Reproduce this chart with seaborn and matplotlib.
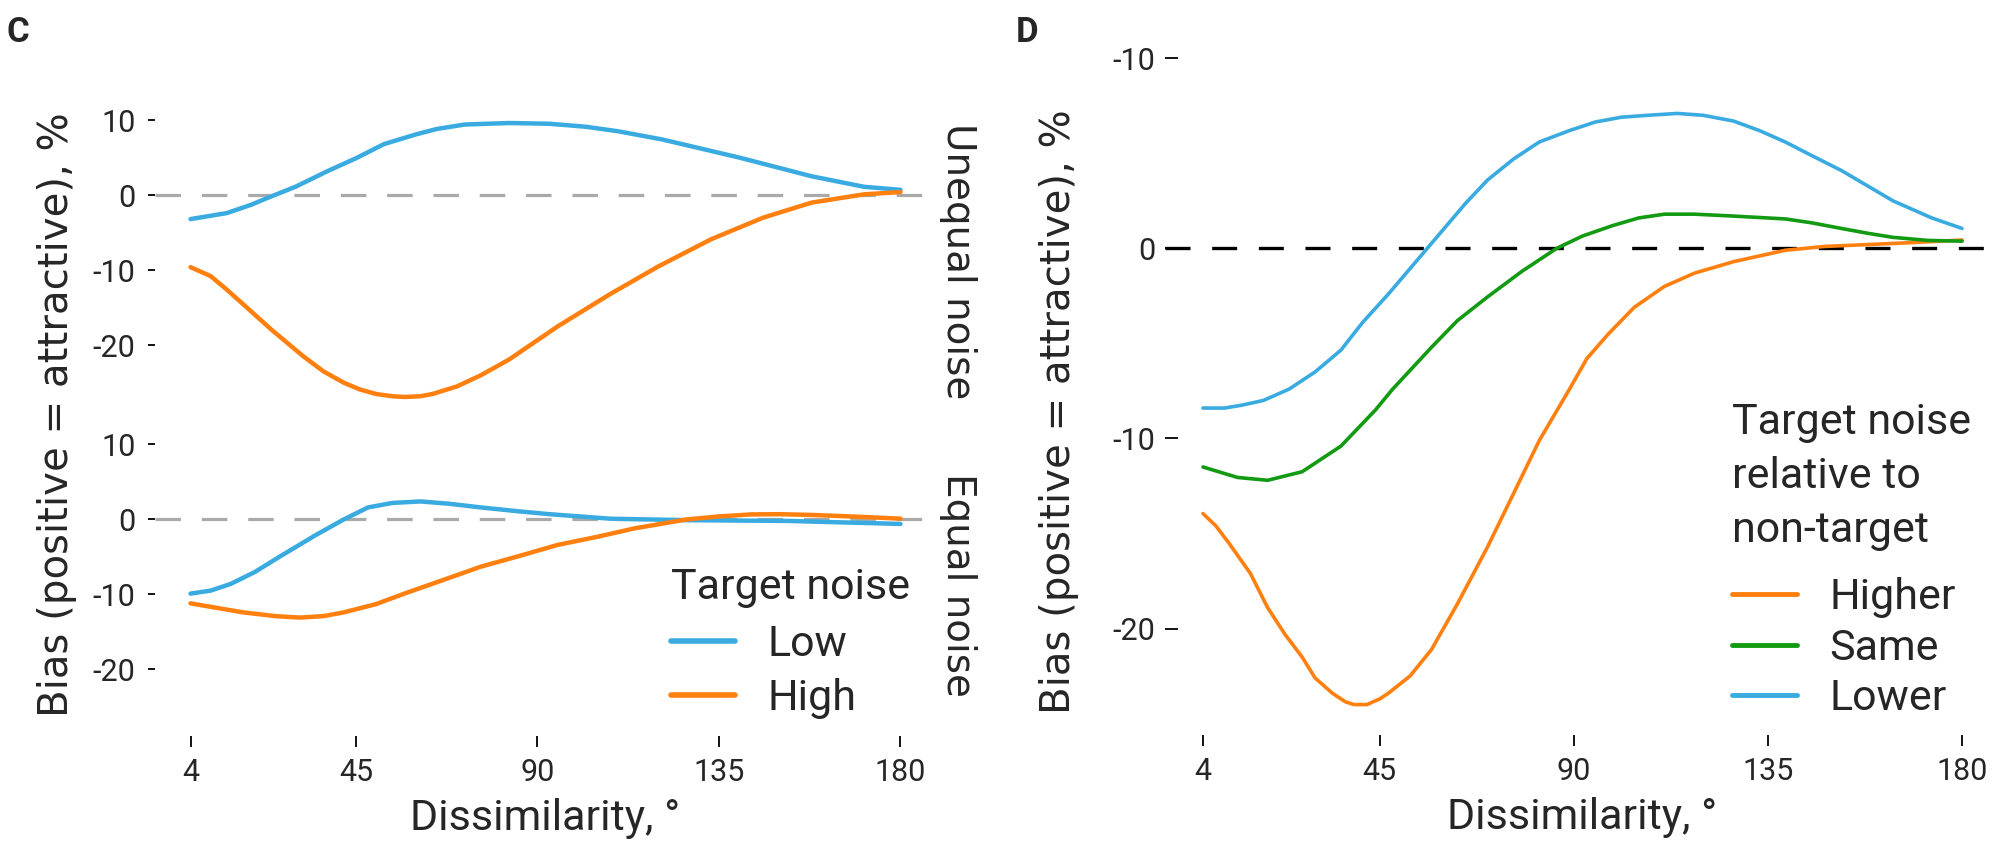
import pandas as pd
import seaborn as sns
import matplotlib
matplotlib.use("Agg")
import matplotlib.pyplot as plt

# panel C, unequal noise (top)
low_unequal_x = [4, 13, 19, 23, 30, 38, 45, 52, 60, 65, 72, 83, 93, 102, 110, 121, 140, 158, 171, 180]
low_unequal_y = [-3.2, -2.4, -1.3, -0.4, 1.1, 3.2, 4.9, 6.8, 8.1, 8.8, 9.4, 9.6, 9.5, 9.1, 8.5, 7.4, 5.0, 2.5, 1.1, 0.7]
high_unequal_x = [4, 9, 13, 18, 24, 32, 37, 42, 46, 50, 54, 57, 61, 64, 70, 76, 83, 95, 108, 120, 133, 146, 158, 171, 180]
high_unequal_y = [-9.6, -10.8, -12.6, -15.0, -17.9, -21.5, -23.5, -25.0, -25.9, -26.5, -26.8, -26.9, -26.8, -26.5, -25.5, -24.0, -21.9, -17.5, -13.2, -9.5, -5.9, -3.0, -1.0, 0.1, 0.4]

# panel C, equal noise (bottom)
low_equal_x = [4, 9, 14, 20, 26, 35, 42, 48, 54, 61, 68, 76, 85, 93, 108, 127, 152, 180]
low_equal_y = [-9.9, -9.5, -8.6, -7.0, -5.0, -2.1, 0.0, 1.6, 2.2, 2.4, 2.1, 1.6, 1.1, 0.7, 0.1, -0.1, -0.2, -0.6]
high_equal_x = [4, 17, 25, 31, 37, 42, 50, 57, 66, 76, 86, 95, 105, 114, 127, 135, 143, 150, 158, 170, 180]
high_equal_y = [-11.2, -12.4, -12.9, -13.1, -12.9, -12.4, -11.3, -9.9, -8.2, -6.3, -4.8, -3.4, -2.3, -1.2, 0.0, 0.4, 0.67, 0.7, 0.6, 0.35, 0.1]

# panel D
lower_x = [4, 9, 13, 18, 24, 30, 36, 41, 47, 56, 65, 70, 76, 82, 89, 95, 101, 107, 114, 120, 127, 133, 139, 145, 152, 158, 164, 173, 180]
lower_y = [-8.4, -8.4, -8.25, -8.0, -7.4, -6.5, -5.35, -3.9, -2.4, 0.0, 2.4, 3.6, 4.7, 5.6, 6.2, 6.65, 6.9, 7.0, 7.1, 7.0, 6.7, 6.2, 5.6, 4.9, 4.1, 3.3, 2.5, 1.6, 1.05]
same_x = [4, 12, 19, 27, 36, 44, 48, 57, 63, 70, 78, 86, 92, 99, 105, 111, 118, 127, 139, 145, 152, 158, 164, 172, 180]
same_y = [-11.5, -12.05, -12.2, -11.75, -10.4, -8.5, -7.4, -5.2, -3.8, -2.55, -1.2, 0.0, 0.65, 1.2, 1.6, 1.8, 1.8, 1.7, 1.55, 1.35, 1.05, 0.8, 0.58, 0.42, 0.38]
higher_x = [4, 7, 10, 15, 19, 23, 27, 30, 34, 37, 39, 42, 45, 47, 52, 57, 63, 70, 76, 82, 89, 93, 98, 104, 111, 118, 127, 139, 148, 158, 168, 180]
higher_y = [-13.95, -14.6, -15.5, -17.1, -18.9, -20.3, -21.5, -22.6, -23.4, -23.85, -24.0, -24.0, -23.7, -23.4, -22.5, -21.1, -18.7, -15.7, -12.9, -10.1, -7.4, -5.8, -4.5, -3.1, -2.0, -1.3, -0.7, -0.1, 0.1, 0.2, 0.3, 0.44]

x_ticks = [4, 45, 90, 135, 180]
c_yticks = [10, 0, -10, -20]
c_yticklabels = ["10", "0", "-10", "-20"]
d_yticks = [10, 0, -10, -20]
d_yticklabels = ["-10", "0", "-10", "-20"]

BLUE = "#3AABE0"
ORANGE = "#FF7F0F"
GREEN = "#129A12"

sns.set_style("ticks")
plt.rcParams["font.family"] = ["Roboto", "DejaVu Sans"]
plt.rcParams["axes.unicode_minus"] = False


def long_df(parts):
    rows = []
    for name, xs, ys in parts:
        for x, y in zip(xs, ys):
            rows.append({"diss": x, "bias": y, "noise": name})
    return pd.DataFrame(rows)


top = long_df([("Low", low_unequal_x, low_unequal_y), ("High", high_unequal_x, high_unequal_y)])
bot = long_df([("Low", low_equal_x, low_equal_y), ("High", high_equal_x, high_equal_y)])
dd = long_df([("Higher", higher_x, higher_y), ("Same", same_x, same_y), ("Lower", lower_x, lower_y)])

fig = plt.figure(figsize=(20, 8.58), dpi=100)
W, H = 2000, 858


def px_axes(l, t, r, b):
    return fig.add_axes([l / W, 1 - b / H, (r - l) / W, (b - t) / H])


ax1 = px_axes(155, 109.5, 936, 412)
ax2 = px_axes(155, 434, 936, 736)
ax3 = px_axes(1165, 52.6, 2000, 735)

pal_c = {"Low": BLUE, "High": ORANGE}
pal_d = {"Higher": ORANGE, "Same": GREEN, "Lower": BLUE}

for ax in (ax1, ax2):
    ax.axhline(0, color="#AAAAAA", lw=2.3, dashes=(8, 6.5), zorder=1)
sns.lineplot(data=top, x="diss", y="bias", hue="noise", hue_order=["Low", "High"],
             palette=pal_c, estimator=None, lw=3.2, legend=False, ax=ax1)
sns.lineplot(data=bot, x="diss", y="bias", hue="noise", hue_order=["Low", "High"],
             palette=pal_c, estimator=None, lw=3.2, ax=ax2)
ax3.axhline(0, color="black", lw=2.4, dashes=(7.5, 6.5), zorder=1)
sns.lineplot(data=dd, x="diss", y="bias", hue="noise", hue_order=["Higher", "Same", "Lower"],
             palette=pal_d, estimator=None, lw=2.6, ax=ax3)

for ax in (ax1, ax2, ax3):
    ax.set_xlim(-4.8, 188.8)
    ax.set_xlabel("")
    ax.set_ylabel("")
    sns.despine(ax=ax, left=True, bottom=True)
    ax.set_xticks(x_ticks)
    ax.set_xticklabels([str(t) for t in x_ticks])
    ax.tick_params(axis="both", labelsize=22, width=1.3, color="black")
    ax.tick_params(axis="x", length=8, pad=8)

for ax in (ax1, ax2):
    ax.set_ylim(-28.9, 11.4)
    ax.set_yticks(c_yticks)
    ax.set_yticklabels(c_yticklabels)
    ax.tick_params(axis="y", length=5, pad=9)
ax1.tick_params(axis="x", bottom=False, labelbottom=False)

ax3.set_ylim(-25.6, 10.3)
ax3.set_yticks(d_yticks)
ax3.set_yticklabels(d_yticklabels)
ax3.tick_params(axis="y", length=9, direction="in", pad=7)

ax2.set_xlabel("Dissimilarity, °", fontsize=31, labelpad=8)
ax3.set_xlabel("Dissimilarity, °", fontsize=31, labelpad=8)

leg_c = ax2.legend(title="Target noise", loc="upper left", bbox_to_anchor=(645 / W, 1 - 541 / H),
                   bbox_transform=fig.transFigure, frameon=False, fontsize=31, title_fontsize=31,
                   handlelength=1.5, handletextpad=0.75, labelspacing=0.3, borderpad=0.6,
                   borderaxespad=0, alignment="left")
leg_c._legend_box.sep = 12
for h in leg_c.get_lines():
    h.set_linewidth(4)
leg_d = ax3.legend(title="Target noise\nrelative to\nnon-target", loc="upper left",
                   bbox_to_anchor=(1700 / W, 1 - 370 / H), bbox_transform=fig.transFigure,
                   frameon=False, fontsize=31, title_fontsize=31, handlelength=1.5,
                   handletextpad=0.75, labelspacing=0.22, borderpad=0.75, borderaxespad=0,
                   alignment="left")
leg_d._legend_box.sep = 19
leg_d.get_title().set_linespacing(1.4)
for h in leg_d.get_lines():
    h.set_linewidth(3.5)

ylab = "Bias (positive = attractive), %"
fig.text(57 / W, 1 - 415 / H, ylab, rotation=90, va="center", ha="center", fontsize=29, family="DejaVu Sans")
fig.text(1059 / W, 1 - 412 / H, ylab, rotation=90, va="center", ha="center", fontsize=29, family="DejaVu Sans")
fig.text(958 / W, 1 - 261 / H, "Unequal noise", rotation=-90, va="center", ha="center", fontsize=28, family="DejaVu Sans")
fig.text(958 / W, 1 - 585 / H, "Equal noise", rotation=-90, va="center", ha="center", fontsize=28, family="DejaVu Sans")

fig.text(6 / W, 1 - 33 / H, "C", fontsize=25, weight="bold", va="center", ha="left")
fig.text(1016 / W, 1 - 33 / H, "D", fontsize=25, weight="bold", va="center", ha="left")

fig.savefig("out.png", dpi=100)
